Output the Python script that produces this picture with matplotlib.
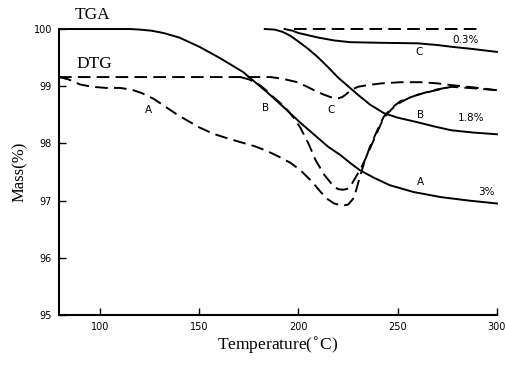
import numpy as np
import matplotlib.pyplot as plt

# TGA curves (solid)
tga_a_t = [79.3, 115, 120, 126, 132, 140, 150, 160, 172, 184, 192, 201, 208, 215, 221, 226,
           231, 238, 246, 258, 272, 286, 300]
tga_a_m = [100, 100, 99.99, 99.97, 99.93, 99.85, 99.69, 99.5, 99.25, 98.9, 98.65, 98.36, 98.15,
           97.94, 97.80, 97.66, 97.53, 97.40, 97.27, 97.15, 97.06, 97.0, 96.95]

tga_b_t = [183, 188, 192, 196, 200, 205, 210, 215, 220, 225, 230, 236, 243, 250, 260, 268,
           277, 288, 300]
tga_b_m = [100, 99.99, 99.95, 99.88, 99.78, 99.65, 99.5, 99.33, 99.15, 99.0, 98.85, 98.68,
           98.53, 98.45, 98.37, 98.3, 98.23, 98.19, 98.16]

tga_c_t = [193, 197, 200, 205, 210, 218, 226, 240, 260, 270, 277, 288, 300]
tga_c_m = [100, 99.97, 99.93, 99.89, 99.85, 99.8, 99.77, 99.76, 99.75, 99.72, 99.69, 99.65, 99.6]

# DTG curves (dashed)
dtg_a_t = [79.3, 84, 90, 96, 103, 110, 116, 121, 127, 133, 139, 145, 150, 157, 165, 172,
           178, 184, 190, 196, 201, 206, 210, 214, 218, 222, 225, 228, 230, 233, 236, 240,
           243, 247, 251, 256, 260, 268, 277, 290, 300]
dtg_a_m = [99.16, 99.12, 99.03, 98.99, 98.97, 98.97, 98.94, 98.88, 98.78, 98.64, 98.5, 98.38,
           98.28, 98.17, 98.08, 98.01, 97.95, 97.87, 97.77, 97.66, 97.53, 97.36, 97.2, 97.04,
           96.95, 96.91, 96.93, 97.05, 97.3, 97.65, 97.94, 98.25, 98.47, 98.62, 98.73, 98.8,
           98.85, 98.92, 98.99, 98.96, 98.93]

dtg_b_t = [170.7, 175, 179.3, 183, 187.4, 191, 194.5, 198, 201, 205, 208.6, 213, 217.7,
           220, 222.7, 225, 227, 229, 231.3, 234, 236.4, 240, 243, 247, 251.5, 256, 260.1,
           268, 276.8]
dtg_b_m = [99.16, 99.12, 99.05, 98.95, 98.81, 98.7, 98.58, 98.43, 98.27, 98.0, 97.71, 97.45,
           97.25, 97.2, 97.19, 97.21, 97.3, 97.42, 97.55, 97.75, 97.94, 98.22, 98.45, 98.6,
           98.72, 98.8, 98.85, 98.93, 98.99]

dtg_c_t = [79.3, 185.9, 192, 199.5, 205, 209.6, 213, 216.2, 218.5, 220.2, 222, 223.7, 226.3,
           230, 234.9, 242, 251.5, 261.6, 270, 276.8, 288, 300]
dtg_c_m = [99.16, 99.16, 99.13, 99.07, 98.98, 98.9, 98.85, 98.81, 98.79, 98.79, 98.81, 98.85,
           98.93, 98.99, 99.02, 99.05, 99.07, 99.07, 99.05, 99.02, 98.98, 98.93]

top_t = [197.5, 290.9]
top_m = [100, 100]

labels = [("A", 124.2, 98.58), ("B", 183.3, 98.62), ("C", 216.2, 98.58),
          ("C", 260.6, 99.6), ("B", 261.6, 98.5), ("A", 261.6, 97.33),
          ("0.3%", 284.4, 99.81), ("1.8%", 287, 98.44), ("3%", 294.5, 97.15)]

fig = plt.figure(figsize=(5.06, 3.72), dpi=100)
ax = fig.add_axes([0.1166, 0.1532, 0.982 - 0.1166, 0.922 - 0.1532])

lw = 1.4
dash = (0, (6.5, 3.2))
ax.plot(tga_a_t, tga_a_m, 'k-', lw=lw, clip_on=False)
ax.plot(tga_b_t, tga_b_m, 'k-', lw=lw, clip_on=False)
ax.plot(tga_c_t, tga_c_m, 'k-', lw=lw, clip_on=False)
ax.plot(dtg_c_t, dtg_c_m, color='k', ls=dash, lw=lw)
ax.plot(dtg_a_t, dtg_a_m, color='k', ls=dash, lw=lw)
ax.plot(dtg_b_t, dtg_b_m, color='k', ls=dash, lw=lw)
ax.plot(top_t, top_m, color='k', ls=dash, lw=lw, clip_on=False)

for s, x, y in labels:
    ax.text(x, y, s, fontsize=7.5, ha='center', va='center', family='DejaVu Sans')

ax.text(87, 100.11, 'TGA', fontsize=12.5, family='Liberation Serif', va='bottom')
ax.text(88, 99.24, 'DTG', fontsize=12.5, family='Liberation Serif', va='bottom')

ax.set_xlim(79.3, 300)
ax.set_ylim(95, 100)
ax.set_xticks([100, 150, 200, 250, 300])
ax.set_yticks([95, 96, 97, 98, 99, 100])
ax.spines['top'].set_visible(False)
ax.spines['right'].set_visible(False)
ax.spines['left'].set_linewidth(1.5)
ax.spines['bottom'].set_linewidth(1.5)
ax.tick_params(direction='in', length=5, width=1, labelsize=7, pad=5)
ax.set_xlabel('Temperature($^{\\circ}$C)', family='Liberation Serif', fontsize=12.5, labelpad=2)
ax.set_ylabel('Mass(%)', family='Liberation Serif', fontsize=12, labelpad=4)

fig.savefig('out.png', dpi=100)
